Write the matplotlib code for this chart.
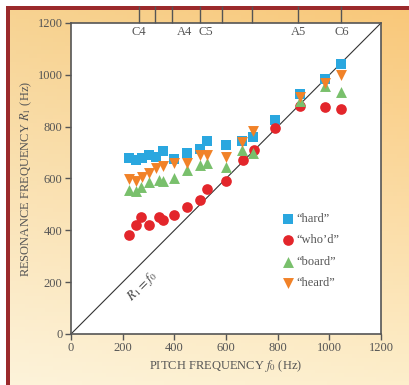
import numpy as np
import matplotlib
matplotlib.use("Agg")
import matplotlib.pyplot as plt
from matplotlib.colors import to_rgb

plt.rcParams["mathtext.fontset"] = "stix"

# ---- data ----
hard_f = [225, 250, 275, 300, 330, 355, 400, 450, 500, 525, 600, 660, 705, 790, 885, 985, 1045]
hard_R = [680, 672, 678, 690, 683, 705, 675, 700, 715, 745, 730, 745, 760, 825, 925, 985, 1040]

whod_f = [225, 250, 270, 300, 340, 355, 400, 450, 500, 525, 600, 665, 710, 790, 885, 985, 1045]
whod_R = [382, 420, 450, 420, 450, 440, 458, 490, 517, 560, 590, 670, 710, 795, 880, 876, 870]

board_f = [225, 250, 270, 300, 340, 355, 400, 450, 500, 525, 600, 660, 705, 885, 985, 1045]
board_R = [555, 552, 567, 585, 594, 590, 602, 632, 652, 660, 645, 710, 700, 900, 955, 932]

heard_f = [225, 250, 275, 300, 330, 355, 400, 450, 500, 525, 600, 660, 705, 885, 985, 1045]
heard_R = [598, 590, 606, 620, 640, 650, 660, 660, 690, 690, 683, 740, 785, 915, 970, 998]

note_ticks = [265, 325, 390, 500, 585, 700, 880, 1047]
note_labels = ["C4", "A4", "C5", "A5", "C6"]
note_label_pos = [262, 440, 523, 880, 1047]

xticks = [0, 200, 400, 600, 800, 1000, 1200]
yticks = [0, 200, 400, 600, 800, 1000, 1200]

W, H = 409, 385
fig = plt.figure(figsize=(W / 100, H / 100), dpi=100)
fig.patch.set_facecolor("white")

# background gradient
bg = fig.add_axes([0, 0, 1, 1], zorder=-10)
ny, nx = 100, 100
yy, xx = np.mgrid[0:1:ny * 1j, 0:1:nx * 1j]
TL, TR = np.array(to_rgb("#f7d290")), np.array(to_rgb("#f9c778"))
BL, BR = np.array(to_rgb("#fdf3da")), np.array(to_rgb("#fdeecb"))
img = ((1 - yy)[..., None] * ((1 - xx)[..., None] * TL + xx[..., None] * TR)
       + yy[..., None] * ((1 - xx)[..., None] * BL + xx[..., None] * BR))
bg.imshow(img, extent=[0, W, H, 0], aspect="auto")
# white margin + red border
bg.fill_between([0, W], [0, 0], [6, 6], color="white", lw=0)
bg.fill_between([0, 6], [0, 0], [H, H], color="white", lw=0)
bg.fill_between([6, W], [6, 6], [10, 10], color="#9b2a2c", lw=0)
bg.fill_between([6, 10], [6, 6], [H, H], color="#9b2a2c", lw=0)
bg.set_xlim(0, W)
bg.set_ylim(H, 0)
bg.axis("off")

serif = ["Liberation Serif", "DejaVu Serif"]
tc = "#555555"

ax = fig.add_axes([71 / W, 1 - 334 / H, 310 / W, 311 / H])
ax.set_facecolor("white")
ax.set_xlim(0, 1200)
ax.set_ylim(0, 1200)

ax.plot([0, 1200], [0, 1200], color="#333333", lw=0.8, zorder=2)

ms = 7.5
ax.scatter(hard_f, hard_R, marker="s", s=ms**2 * 0.85, color="#2aa7df", zorder=3, label="\u201chard\u201d", lw=0)
ax.scatter(whod_f, whod_R, marker="o", s=ms**2 * 1.05, color="#e3262b", zorder=3, label="\u201cwho\u2019d\u201d", lw=0)
ax.scatter(board_f, board_R, marker="^", s=ms**2 * 1.1, color="#79c06c", zorder=3, label="\u201cboard\u201d", lw=0)
ax.scatter(heard_f, heard_R, marker="v", s=ms**2 * 1.1, color="#f18228", zorder=3, label="\u201cheard\u201d", lw=0)

ax.set_xticks(xticks)
ax.set_yticks(yticks)
ax.set_xticklabels([str(t) for t in xticks], family=serif, fontsize=9, color=tc)
ax.set_yticklabels([str(t) for t in yticks], family=serif, fontsize=9, color=tc)
ax.tick_params(direction="out", length=4, width=1, color="#555555", pad=2)
for s in ax.spines.values():
    s.set_color("#555555")
    s.set_linewidth(1.2)

ax.set_xlabel("PITCH FREQUENCY $f_0$ (Hz)", family=serif, fontsize=9, color=tc, labelpad=3)
ax.set_ylabel("RESONANCE FREQUENCY $R_1$ (Hz)", family=serif, fontsize=9, color=tc, labelpad=3)

# note ticks at top
sec = ax.secondary_xaxis("top")
sec.set_xticks(note_ticks)
sec.set_xticklabels([])
sec.tick_params(direction="out", length=12, width=1, color="#555555")
sec.spines["top"].set_visible(False)
for lbl, p in zip(note_labels, note_label_pos):
    ax.text(p, 1165, lbl, ha="center", va="center", family=serif, fontsize=9, color=tc)

ax.text(275, 185, "$R_1 = f_0$", rotation=45, ha="center", va="center",
        fontsize=9.5, color="#444444")

leg = ax.legend(loc="upper left", bbox_to_anchor=(0.665, 0.405), frameon=False,
                handletextpad=0.1, labelspacing=0.75, borderaxespad=0, handlelength=1.0,
                prop={"family": serif, "size": 9})
for t in leg.get_texts():
    t.set_color(tc)

fig.savefig("out.png", dpi=100)
